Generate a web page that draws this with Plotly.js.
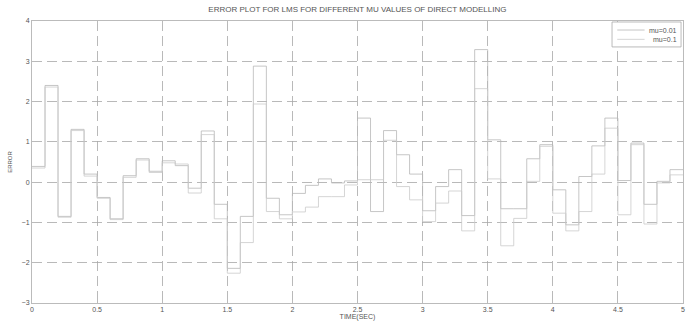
<!DOCTYPE html>
<html>
<head>
<meta charset="utf-8">
<script src="https://cdn.plot.ly/plotly-3.0.1.min.js"></script>
<style>html,body{margin:0;padding:0;background:#fff;}#chart{width:696px;height:321px;}</style>
</head>
<body>
<div id="chart"></div>
<script>
// Sample times (seconds); the last point closes the final step at t = 5
const time = [0,0.1,0.2,0.3,0.4,0.5,0.6,0.7,0.8,0.9,1.0,1.1,1.2,1.3,1.4,1.5,1.6,1.7,1.8,1.9,
  2.0,2.1,2.2,2.3,2.4,2.5,2.6,2.7,2.8,2.9,3.0,3.1,3.2,3.3,3.4,3.5,3.6,3.7,3.8,3.9,
  4.0,4.1,4.2,4.3,4.4,4.5,4.6,4.7,4.8,4.9,5.0];

// Error for mu = 0.01
const errMu001 = [0.39,2.40,-0.85,1.31,0.20,-0.38,-0.91,0.16,0.58,0.27,
  0.53,0.41,-0.15,1.27,-0.55,-2.14,-0.85,2.88,-0.40,-0.81,
  -0.28,-0.08,0.08,-0.02,0.03,1.59,-0.73,1.28,0.68,0.20,
  -0.71,-0.11,0.31,-0.83,3.29,1.05,-0.66,-0.66,0.58,0.93,
  -0.19,-1.06,0.14,0.90,1.59,0.04,0.97,-0.55,0.02,0.31,0.31];

// Error for mu = 0.1
const errMu01 = [0.35,2.36,-0.87,1.28,0.15,-0.40,-0.93,0.12,0.55,0.24,
  0.48,0.45,-0.27,1.18,-0.91,-2.26,-1.50,1.94,-0.73,-0.91,
  -0.74,-0.62,-0.36,-0.36,-0.07,0.06,0.06,1.04,-0.11,-0.44,
  -0.98,-0.52,-0.22,-1.21,2.32,0.08,-1.58,-0.90,0.02,0.89,
  -0.77,-1.21,-0.73,0.20,1.34,-0.81,0.93,-1.04,-0.02,0.18,0.18];

const seriesNames = ['mu=0.01', 'mu=0.1'];
const seriesColors = ['#b8b8b8', '#cacaca'];

const xTicks = [0,0.5,1,1.5,2,2.5,3,3.5,4,4.5,5];
const xTickText = ['0','0.5','1','1.5','2','2.5','3','3.5','4','4.5','5'];
const yTicks = [-3,-2,-1,0,1,2,3,4];

const seriesValues = [errMu001, errMu01];
const traces = seriesValues.map((vals, i) => ({
  x: time, y: vals, name: seriesNames[i], type: 'scatter', mode: 'lines',
  line: {shape: 'hv', color: seriesColors[i], width: 0.8}
}));

const fontFamily = 'Liberation Sans, Arial, sans-serif';
const tickFont = {family: fontFamily, size: 7, color: '#555'};

// Compact MATLAB-style legend box (drawn in paper coordinates)
const legendBox = {x0: 0.891, x1: 0.997, y0: 0.908, y1: 0.9965};
const legendRowsY = [0.968, 0.935];
const shapes = [
  {type: 'rect', xref: 'paper', yref: 'paper', x0: legendBox.x0, x1: legendBox.x1,
   y0: legendBox.y0, y1: legendBox.y1, line: {color: '#aaa', width: 0.8}, fillcolor: '#fff'}
];
const annotations = [];
seriesNames.forEach((nm, i) => {
  shapes.push({type: 'line', xref: 'paper', yref: 'paper', x0: 0.899, x1: 0.941,
    y0: legendRowsY[i], y1: legendRowsY[i], line: {color: seriesColors[i], width: 0.8}});
  annotations.push({xref: 'paper', yref: 'paper', x: 0.994, y: legendRowsY[i],
    xanchor: 'right', yanchor: 'middle', text: nm, showarrow: false,
    font: {family: fontFamily, size: 7, color: '#555'}});
});

const layout = {
  width: 696, height: 321,
  margin: {l: 32, r: 13, t: 21, b: 18},
  paper_bgcolor: '#fff', plot_bgcolor: '#fff',
  title: {text: 'ERROR PLOT FOR LMS FOR DIFFERENT MU VALUES OF DIRECT MODELLING',
    font: {family: fontFamily, size: 8, color: '#555'},
    x: 0.5135, xanchor: 'center', y: 0.972, yanchor: 'middle'},
  xaxis: {range: [0, 5], tickvals: xTicks, ticktext: xTickText, tickfont: tickFont,
    showgrid: true, gridcolor: '#a8a8a8', griddash: '10px,5px', gridwidth: 0.8,
    zeroline: false, showline: true, mirror: 'ticks', linecolor: '#bbb', linewidth: 1,
    ticks: 'inside', ticklen: 3, tickcolor: '#bbb',
    title: {text: 'TIME(SEC)', font: tickFont, standoff: 0}},
  yaxis: {range: [-3, 4], tickvals: yTicks, tickfont: tickFont,
    showgrid: true, gridcolor: '#a8a8a8', griddash: '10px,5px', gridwidth: 0.8,
    zeroline: false, showline: true, mirror: 'ticks', linecolor: '#bbb', linewidth: 1,
    ticks: 'inside', ticklen: 3, tickcolor: '#bbb',
    title: {text: 'ERROR', font: {family: fontFamily, size: 6, color: '#555'}, standoff: 8}},
  showlegend: false,
  shapes: shapes,
  annotations: annotations
};

Plotly.newPlot('chart', traces, layout, {staticPlot: true, displayModeBar: false});
</script>
</body>
</html>
